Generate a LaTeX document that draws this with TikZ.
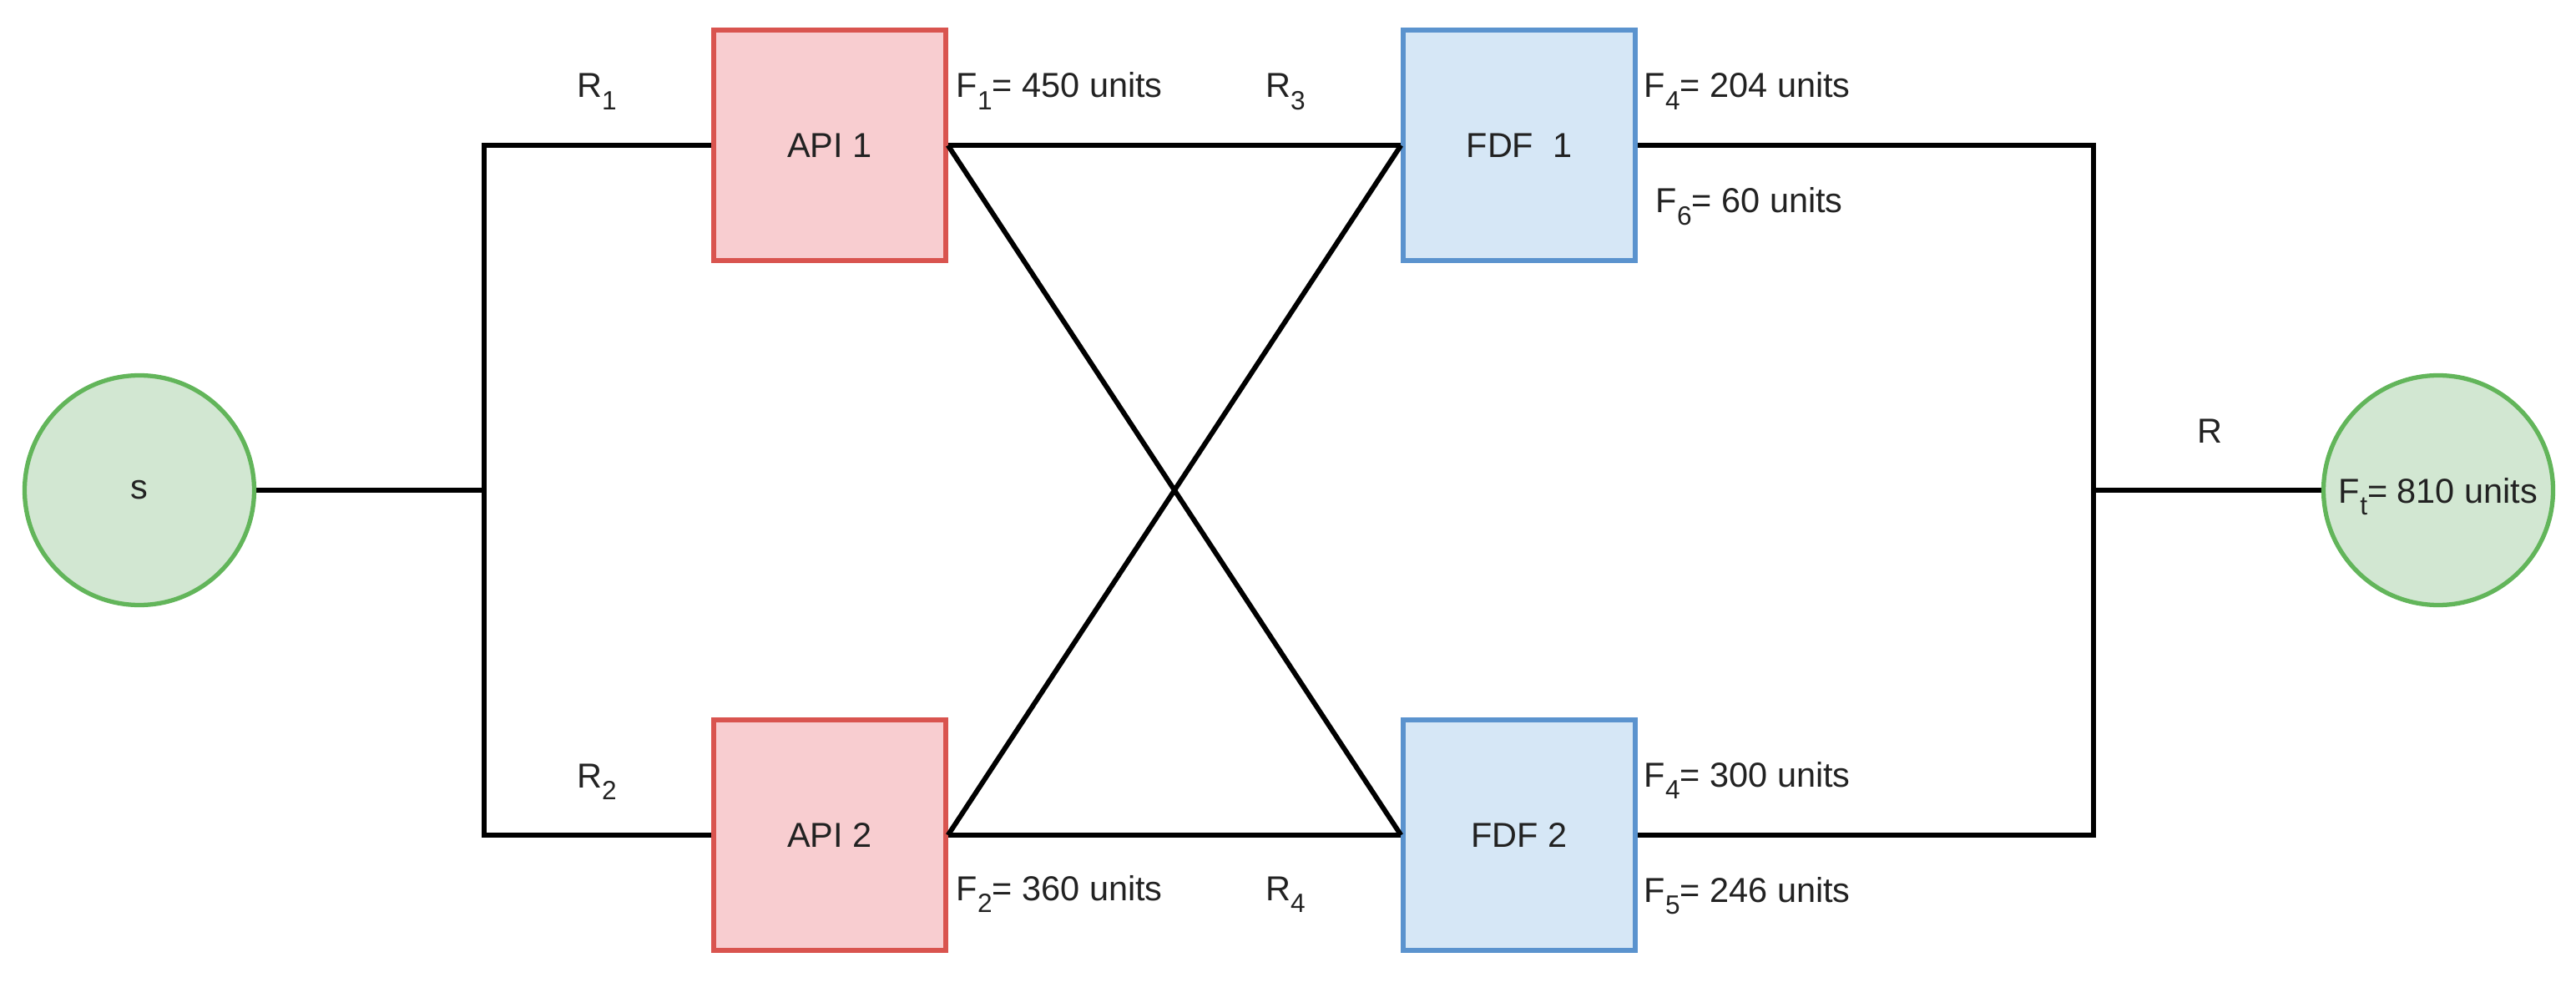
\documentclass[tikz,border=0pt]{standalone}
\usepackage{fontspec}
\setmainfont{Liberation Sans}
\definecolor{gstroke}{HTML}{62B55A}
\definecolor{gfill}{HTML}{D2E7D2}
\definecolor{rstroke}{HTML}{D9544F}
\definecolor{rfill}{HTML}{F8CDD0}
\definecolor{bstroke}{HTML}{5B93CE}
\definecolor{bfill}{HTML}{D6E7F6}
\definecolor{txt}{HTML}{222222}
\newcommand\sbx[1]{\raisebox{-0.65ex}{\fontsize{9}{9}\selectfont #1}}
\begin{document}
\begin{tikzpicture}[
  font=\fontsize{11.8}{13}\selectfont,
  every node/.style={text=txt},
  wire/.style={line width=1.7pt, black, line join=miter},
  endnode/.style={circle, draw=gstroke, fill=gfill, line width=1.5pt, minimum size=2.75cm, inner sep=0pt},
  apibox/.style={rectangle, draw=rstroke, fill=rfill, line width=1.5pt, minimum width=2.78cm, minimum height=2.76cm, inner sep=0pt},
  fdfbox/.style={rectangle, draw=bstroke, fill=bfill, line width=1.5pt, minimum width=2.78cm, minimum height=2.76cm, inner sep=0pt},
  lbl/.style={inner sep=0pt, anchor=base},
  flbl/.style={inner sep=0pt, anchor=base west}
]
\useasboundingbox (0,0) rectangle (30.86,12);

% junction coordinates
\coordinate (jlt) at (5.80,10.26);
\coordinate (jl)  at (5.80,6.13);
\coordinate (jlb) at (5.80,2.00);
\coordinate (jrt) at (25.08,10.26);
\coordinate (jr)  at (25.08,6.13);
\coordinate (jrb) at (25.08,2.00);

% connectors (drawn first, under nodes)
\draw[wire] (9.94,10.26) -- (jlt) -- (jlb) -- (9.94,2.00);
\draw[wire] (1.67,6.13) -- (jl);
\draw[wire] (18.20,10.26) -- (jrt) -- (jrb) -- (18.20,2.00);
\draw[wire] (jr) -- (29.21,6.13);

% nodes
\node[endnode] (s) at (1.67,6.13) {s};
\node[endnode, text depth=0pt] (ft) at (29.21,6.13) {F\sbx{t}= 810 units};
\node[apibox] (api1) at (9.94,10.26) {API 1};
\node[apibox] (api2) at (9.94,2.00) {API 2};
\node[fdfbox] (fdf1) at (18.20,10.26) {FDF\ \ 1};
\node[fdfbox] (fdf2) at (18.20,2.00) {FDF 2};

% node-to-node connectors
\draw[wire] (api1.east) -- (fdf1.west);
\draw[wire] (api2.east) -- (fdf2.west);
\draw[wire] (api1.east) -- (fdf2.west);
\draw[wire] (api2.east) -- (fdf1.west);

% labels
\node[lbl] (r1) at (7.15,10.83) {R\sbx{1}};
\node[lbl] (r2) at (7.15,2.57) {R\sbx{2}};
\node[lbl] (r3) at (15.40,10.83) {R\sbx{3}};
\node[lbl] (r4) at (15.40,1.22) {R\sbx{4}};
\node[lbl] (r)  at (26.47,6.70) {R};
\node[flbl] (f1) at (11.45,10.83) {F\sbx{1}= 450 units};
\node[flbl] (f2) at (11.45,1.22) {F\sbx{2}= 360 units};
\node[flbl] (f4a) at (19.69,10.83) {F\sbx{4}= 204 units};
\node[flbl] (f6) at (19.83,9.45) {F\sbx{6}= 60 units};
\node[flbl] (f4b) at (19.69,2.58) {F\sbx{4}= 300 units};
\node[flbl] (f5) at (19.69,1.20) {F\sbx{5}= 246 units};
\end{tikzpicture}
\end{document}
